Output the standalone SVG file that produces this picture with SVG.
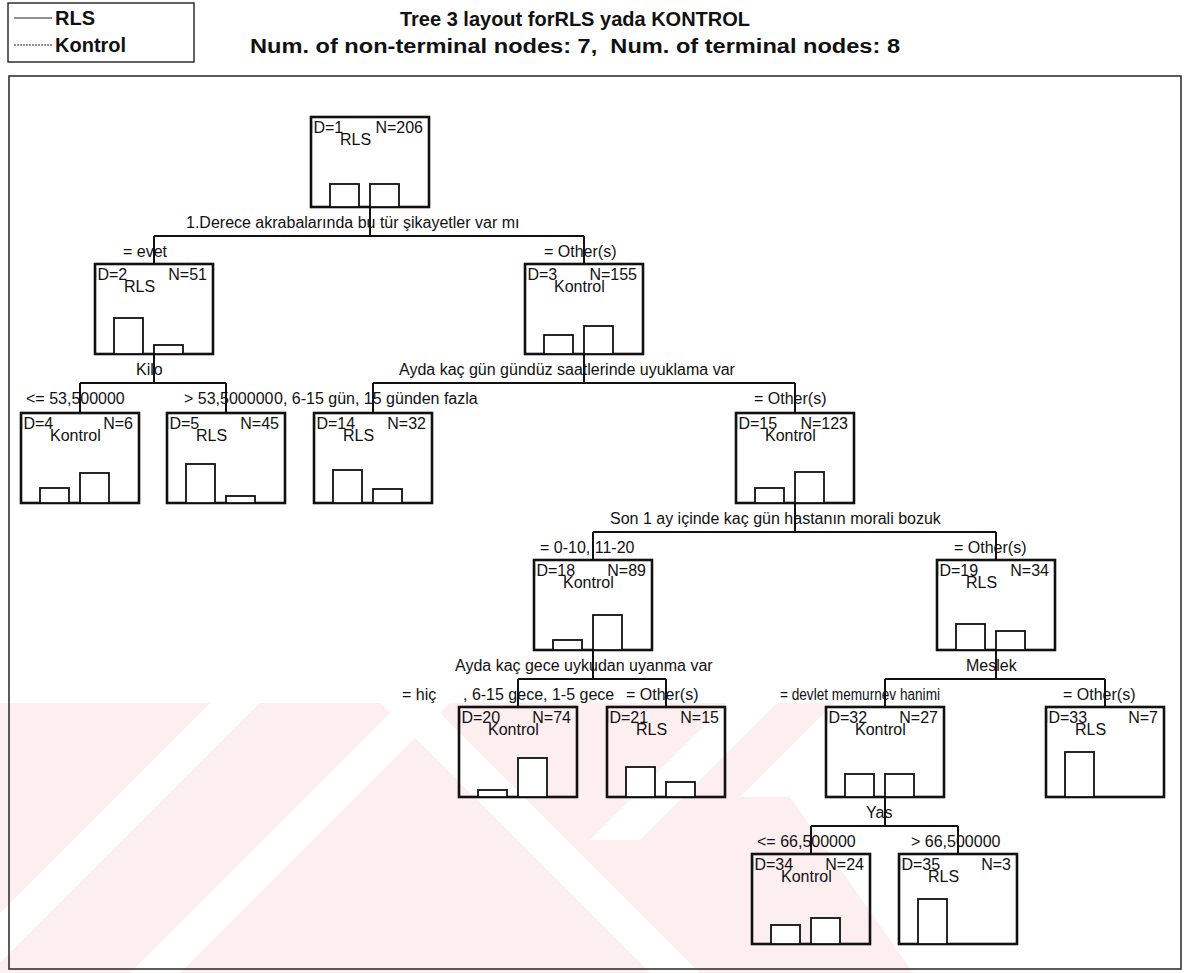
<svg xmlns="http://www.w3.org/2000/svg" width="1187" height="973" viewBox="0 0 1187 973">
<style>
  text { font-family: "Liberation Sans", Arial, sans-serif; fill: #111; }
  .t { font-size: 16px; }
  .hd { font-size: 20px; font-weight: bold; }
  .box { fill: none; stroke: #111; stroke-width: 2.6; }
  .bar { fill: #fff; stroke: #111; stroke-width: 1.8; }
  .con { fill: none; stroke: #111; stroke-width: 2; }
  .frame { fill: none; stroke: #333; stroke-width: 1.6; }
  .wm { fill: #fdeef0; }
</style>

<!-- background watermark bands -->
<g id="watermark">
  <rect class="wm" x="0" y="703" width="1187" height="270"/>
  <g fill="#fff">
    <polygon points="-60,973 -10,973 260,703 210,703"/>
    <polygon points="130,973 180,973 450,703 400,703"/>
    <polygon points="380,703 430,703 700,973 650,973"/>
    <polygon points="590,840 640,840 777,703 727,703"/>
    <polygon points="740,797 790,797 884,703 834,703"/>
    <polygon points="913,973 1187,973 1187,703 884,703 790,797"/>
  </g>
</g>

<!-- legend and heading -->
<g id="legend">
  <rect x="8" y="3" width="186" height="59" fill="none" stroke="#222" stroke-width="1.4"/>
  <line x1="14" y1="18" x2="52" y2="18" stroke="#222" stroke-width="1.2"/>
  <text class="hd" x="55" y="25" font-size="19">RLS</text>
  <line x1="14" y1="45" x2="52" y2="45" stroke="#222" stroke-width="1.2" stroke-dasharray="2 1"/>
  <text class="hd" x="55" y="52" font-size="19">Kontrol</text>
</g>
<g id="heading">
  <text class="hd" x="575" y="26" text-anchor="middle">Tree 3 layout forRLS yada KONTROL</text>
  <text class="hd" x="575" y="53" text-anchor="middle" font-size="21" textLength="650" lengthAdjust="spacingAndGlyphs" xml:space="preserve">Num. of non-terminal nodes: 7,  Num. of terminal nodes: 8</text>
</g>
<rect class="frame" x="9" y="76" width="1172" height="893"/>

<!-- connectors -->
<g id="connectors" class="con">
  <path d="M370,207 V236 M154,236 H584 M154,236 V264 M584,236 V264"/>
  <path d="M154,354 V383 M80,383 H226 M80,383 V413 M226,383 V413"/>
  <path d="M584,354 V383 M373,383 H795 M373,383 V413 M795,383 V413"/>
  <path d="M795,503 V532 M593,532 H996 M593,532 V560 M996,532 V560"/>
  <path d="M593,650 V679 M518,679 H666 M518,679 V707 M666,679 V707"/>
  <path d="M996,650 V679 M885,679 H1105 M885,679 V707 M1105,679 V707"/>
  <path d="M885,797 V826 M811,826 H958 M811,826 V854 M958,826 V854"/>
</g>

<!-- split and branch labels -->
<g id="labels" class="t">
  <text x="186" y="228">1.Derece akrabalarında bu tür şikayetler var mı</text>
  <text x="123" y="257">= evet</text>
  <text x="544" y="257">= Other(s)</text>
  <text x="136" y="375">Kilo</text>
  <text x="399" y="375">Ayda kaç gün gündüz saatlerinde uyuklama var</text>
  <text x="26" y="404">&lt;= 53,500000</text>
  <text x="184" y="404">&gt; 53,500000</text>
  <text x="274" y="404">0, 6-15 gün, 15 günden fazla</text>
  <text x="754" y="404">= Other(s)</text>
  <text x="610" y="524">Son 1 ay içinde kaç gün hastanın morali bozuk</text>
  <text x="540" y="553">= 0-10, 11-20</text>
  <text x="954" y="553">= Other(s)</text>
  <text x="455" y="671">Ayda kaç gece uykudan uyanma var</text>
  <text x="966" y="671">Meslek</text>
  <text x="402" y="700">= hiç</text>
  <text x="463" y="700">, 6-15 gece, 1-5 gece</text>
  <text x="626" y="700">= Other(s)</text>
  <text x="780" y="700" textLength="160" lengthAdjust="spacingAndGlyphs">= devlet memurnev hanimi</text>
  <text x="1063" y="700">= Other(s)</text>
  <text x="866" y="818">Yas</text>
  <text x="757" y="847">&lt;= 66,500000</text>
  <text x="911" y="847">&gt; 66,500000</text>
</g>

<!-- nodes: box, id/count line, class label, two bars (RLS, Kontrol) -->
<g id="node-1" class="t">
  <rect class="box" x="311" y="117" width="118" height="90"/>
  <text x="309" y="133">ID=1</text><text x="423" y="133" text-anchor="end">N=206</text>
  <text x="340" y="145">RLS</text>
  <rect class="bar" x="330" y="184" width="29" height="23"/>
  <rect class="bar" x="370" y="184" width="29" height="23"/>
</g>
<g id="node-2" class="t">
  <rect class="box" x="95" y="264" width="118" height="90"/>
  <text x="93" y="280">ID=2</text><text x="207" y="280" text-anchor="end">N=51</text>
  <text x="124" y="292">RLS</text>
  <rect class="bar" x="114" y="318" width="29" height="36"/>
  <rect class="bar" x="154" y="345" width="29" height="9"/>
</g>
<g id="node-3" class="t">
  <rect class="box" x="525" y="264" width="118" height="90"/>
  <text x="523" y="280">ID=3</text><text x="637" y="280" text-anchor="end">N=155</text>
  <text x="554" y="292">Kontrol</text>
  <rect class="bar" x="544" y="335" width="29" height="19"/>
  <rect class="bar" x="584" y="326" width="29" height="28"/>
</g>
<g id="node-4" class="t">
  <rect class="box" x="21" y="413" width="118" height="90"/>
  <text x="19" y="429">ID=4</text><text x="133" y="429" text-anchor="end">N=6</text>
  <text x="50" y="441">Kontrol</text>
  <rect class="bar" x="40" y="488" width="29" height="15"/>
  <rect class="bar" x="80" y="473" width="29" height="30"/>
</g>
<g id="node-5" class="t">
  <rect class="box" x="167" y="413" width="118" height="90"/>
  <text x="165" y="429">ID=5</text><text x="279" y="429" text-anchor="end">N=45</text>
  <text x="196" y="441">RLS</text>
  <rect class="bar" x="186" y="464" width="29" height="39"/>
  <rect class="bar" x="226" y="496" width="29" height="7"/>
</g>
<g id="node-14" class="t">
  <rect class="box" x="314" y="413" width="118" height="90"/>
  <text x="312" y="429">ID=14</text><text x="426" y="429" text-anchor="end">N=32</text>
  <text x="343" y="441">RLS</text>
  <rect class="bar" x="333" y="470" width="29" height="33"/>
  <rect class="bar" x="373" y="489" width="29" height="14"/>
</g>
<g id="node-15" class="t">
  <rect class="box" x="736" y="413" width="118" height="90"/>
  <text x="734" y="429">ID=15</text><text x="848" y="429" text-anchor="end">N=123</text>
  <text x="765" y="441">Kontrol</text>
  <rect class="bar" x="755" y="488" width="29" height="15"/>
  <rect class="bar" x="795" y="472" width="29" height="31"/>
</g>
<g id="node-18" class="t">
  <rect class="box" x="534" y="560" width="118" height="90"/>
  <text x="532" y="576">ID=18</text><text x="646" y="576" text-anchor="end">N=89</text>
  <text x="563" y="588">Kontrol</text>
  <rect class="bar" x="553" y="640" width="29" height="10"/>
  <rect class="bar" x="593" y="615" width="29" height="35"/>
</g>
<g id="node-19" class="t">
  <rect class="box" x="937" y="560" width="118" height="90"/>
  <text x="935" y="576">ID=19</text><text x="1049" y="576" text-anchor="end">N=34</text>
  <text x="966" y="588">RLS</text>
  <rect class="bar" x="956" y="624" width="29" height="26"/>
  <rect class="bar" x="996" y="631" width="29" height="19"/>
</g>
<g id="node-20" class="t">
  <rect class="box" x="459" y="707" width="118" height="90"/>
  <text x="457" y="723">ID=20</text><text x="571" y="723" text-anchor="end">N=74</text>
  <text x="488" y="735">Kontrol</text>
  <rect class="bar" x="478" y="790" width="29" height="7"/>
  <rect class="bar" x="518" y="758" width="29" height="39"/>
</g>
<g id="node-21" class="t">
  <rect class="box" x="607" y="707" width="118" height="90"/>
  <text x="605" y="723">ID=21</text><text x="719" y="723" text-anchor="end">N=15</text>
  <text x="636" y="735">RLS</text>
  <rect class="bar" x="626" y="767" width="29" height="30"/>
  <rect class="bar" x="666" y="782" width="29" height="15"/>
</g>
<g id="node-32" class="t">
  <rect class="box" x="826" y="707" width="118" height="90"/>
  <text x="824" y="723">ID=32</text><text x="938" y="723" text-anchor="end">N=27</text>
  <text x="855" y="735">Kontrol</text>
  <rect class="bar" x="845" y="774" width="29" height="23"/>
  <rect class="bar" x="885" y="774" width="29" height="23"/>
</g>
<g id="node-33" class="t">
  <rect class="box" x="1046" y="707" width="118" height="90"/>
  <text x="1044" y="723">ID=33</text><text x="1158" y="723" text-anchor="end">N=7</text>
  <text x="1075" y="735">RLS</text>
  <rect class="bar" x="1065" y="752" width="29" height="45"/>
</g>
<g id="node-34" class="t">
  <rect class="box" x="752" y="854" width="118" height="90"/>
  <text x="750" y="870">ID=34</text><text x="864" y="870" text-anchor="end">N=24</text>
  <text x="781" y="882">Kontrol</text>
  <rect class="bar" x="771" y="925" width="29" height="19"/>
  <rect class="bar" x="811" y="918" width="29" height="26"/>
</g>
<g id="node-35" class="t">
  <rect class="box" x="899" y="854" width="118" height="90"/>
  <text x="897" y="870">ID=35</text><text x="1011" y="870" text-anchor="end">N=3</text>
  <text x="928" y="882">RLS</text>
  <rect class="bar" x="918" y="899" width="29" height="45"/>
</g>
</svg>
